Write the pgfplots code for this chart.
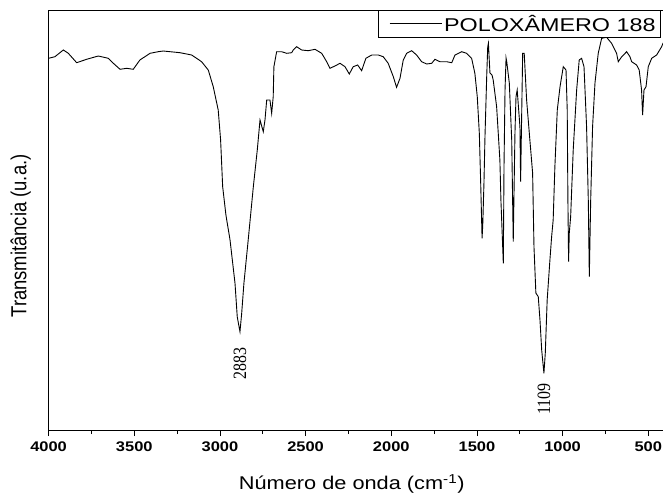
\documentclass[border=0pt]{standalone}
\usepackage{fontspec}
\setmainfont{Liberation Sans}
\newfontfamily\serifnum{Liberation Serif}
\usepackage{graphicx}
\usepackage{pgfplots}
\pgfplotsset{compat=1.18}
\newcommand{\hs}[1]{\scalebox{1.18}[1]{#1}}
\newcommand{\tl}[1]{\scalebox{1.18}[1]{\bfseries #1}}

\begin{document}
\begin{tikzpicture}
\begin{axis}[
  name=ax,
  scale only axis,
  width=616.8bp, height=420bp,
  x dir=reverse,
  xmin=400, xmax=4000,
  ymin=0, ymax=420,
  ytick=\empty,
  xtick={500,1000,1500,2000,2500,3000,3500,4000},
  xticklabels={\tl{500},\tl{1000},\tl{1500},\tl{2000},\tl{2500},\tl{3000},\tl{3500},\tl{4000}},
  minor x tick num=1,
  tick align=outside,
  xtick pos=left,
  major tick length=6bp, minor tick length=4bp,
  every tick/.style={black, line width=0.8bp},
  axis line style={line width=0.8bp},
  xticklabel style={font=\fontsize{14}{14}\selectfont, inner sep=0pt, anchor=north, yshift=-5.5bp},
  xlabel={\hs{Número de onda (cm\textsuperscript{-1})}},
  ylabel={\scalebox{1}[1.18]{Transmitância (u.a.)}},
  every axis x label/.style={at={(axis description cs:0.4915,0)}, anchor=center, yshift=-54bp, font=\fontsize{18.5}{20}\selectfont},
  every axis y label/.style={at={([xshift=-28bp]axis description cs:0,0.462)}, anchor=center, rotate=90, font=\fontsize{18.5}{20}\selectfont},
  legend style={at={(1,1)}, anchor=north east, xshift=-4.4bp, draw=black, line width=0.8bp,
    font=\fontsize{18.6}{20}\selectfont, inner xsep=3bp, inner ysep=2.5bp, nodes={inner sep=2bp}},
  legend image code/.code={\path (-8bp,0bp); \draw[#1] (0bp,0bp) -- (52bp,0bp);},
]
\addplot[black, line width=0.9bp] table {
x y
4000 371.7
3963 373.3
3914 380
3885 376.7
3836 367.3
3778 370.7
3710 374
3652 371.7
3622 366.7
3583 360.7
3544 361.7
3506 360.7
3467 370
3408 376.7
3360 378.3
3331 379
3233 377.3
3165 375
3107 368.3
3068 360
3039 343.3
3010 320
2996 290
2984 243.3
2965 215
2941 190
2912 146.7
2899 113.3
2883 98.3
2873 116.7
2860 146.7
2835 190
2805 243.3
2782 280
2766 310
2747 298.3
2737 310
2727 330
2708 330
2698 316.7
2689 333.3
2685 363.3
2669 378.3
2640 378.3
2610 376.7
2581 377.3
2572 380
2552 383.3
2523 380
2484 379.3
2445 380.7
2406 376.7
2377 368.3
2358 361.7
2329 364
2299 366.7
2270 363.3
2245 356
2222 363.3
2196 365
2173 359.3
2148 371.7
2114 375
2076 375
2047 373.3
2018 366.7
1988 353.3
1969 342.7
1949 351.7
1930 370
1910 376.7
1881 379.3
1852 375
1823 368.3
1793 366
1764 366.7
1745 370.7
1716 368.3
1677 368.3
1647 367.3
1628 375
1589 378.3
1560 376.7
1531 371.7
1512 356.7
1498 333.3
1486 296.7
1478 246.7
1470 191.7
1466 205
1459 246.7
1453 293.3
1443 353.3
1437 383
1433 386.7
1428 370
1424 357
1412 355
1405 350
1385 323.3
1366 270
1360 230
1346 166.7
1342 263
1336 340
1330 372
1326 368.3
1311 347
1297 290
1288 188.3
1278 297
1272 333.3
1265 340
1249 303.3
1245 248.3
1239 313.3
1233 376.7
1224 376.7
1210 330
1191 290
1175 257
1167 183.3
1156 137
1142 133.3
1132 110
1122 80
1109 56.7
1101 77
1090 130
1074 170
1064 193.3
1055 210
1045 263.3
1031 320
1015 343.3
996 363.3
980 360
973 320
969 230
965 168.3
961 197
953 213.3
938 280
918 340
903 370
889 371.7
875 363.3
860 303.3
850 230
844 153.3
836 230
825 303.3
811 347
792 376.7
772 391.7
743 392.7
714 386.7
685 376.7
675 368.3
655 373.3
626 378.3
607 373.3
597 368.3
568 365
553 360
539 340
533 315
525 340
513 343.3
500 363.3
480 371.7
451 375
422 383.3
414 386.7
400 390
};
\addlegendentry{\scalebox{1.26}[1]{POLOXÂMERO 188}}
\node[rotate=90, anchor=east, inner sep=0pt, font=\serifnum\fontsize{16}{16}\selectfont] at (axis cs:2883,83) {\scalebox{1}[1.18]{2883}};
\node[rotate=90, anchor=east, inner sep=0pt, font=\serifnum\fontsize{16}{16}\selectfont] at (axis cs:1109,47) {\scalebox{1}[1.18]{1109}};
\end{axis}
\pgfresetboundingbox
\path ([shift={(-48.6bp,-65bp)}]ax.south west) rectangle ([shift={(-2.4bp,10bp)}]ax.north east);
\end{tikzpicture}
\end{document}
